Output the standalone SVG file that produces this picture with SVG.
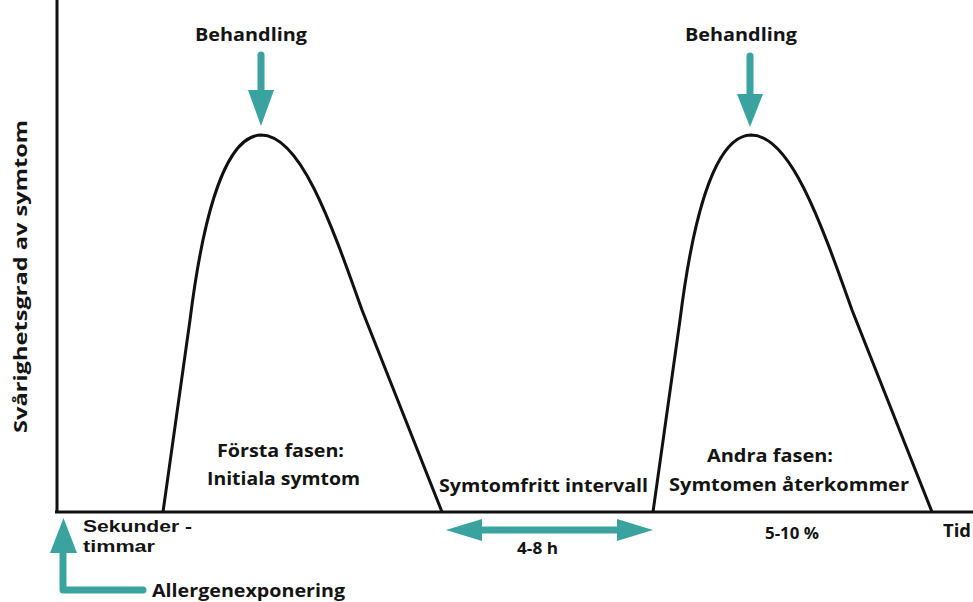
<svg xmlns="http://www.w3.org/2000/svg" width="973" height="602" viewBox="0 0 973 602">
<style>
.t{font-family:"Open Sans","Liberation Sans",sans-serif;font-weight:700;font-size:18px;fill:#141414}
.s{font-size:16px}
.n{font-family:"Liberation Sans",Arial,sans-serif;font-size:17px}
.ax{stroke:#111;stroke-width:3;fill:none}
.cv{stroke:#111;stroke-width:3;fill:none;stroke-linejoin:round}
.sh{stroke:#3aa39f;stroke-width:7;fill:none;stroke-linecap:round;stroke-linejoin:round}
.hd{fill:#3aa39f}
</style>
<defs>
<path id="hump" d="M163,512 L190,320 C200,240 220,136 261,135 C300,135 330,220 362,310 L442,512"/>
</defs>
<g id="axes">
<line class="ax" x1="57" y1="0" x2="57" y2="513"/>
<line class="ax" x1="55" y1="512" x2="973" y2="512"/>
<text class="t" transform="translate(27,276.5) rotate(-90)" text-anchor="middle" textLength="313" lengthAdjust="spacingAndGlyphs">Svårighetsgrad av symtom</text>
<text class="t" x="943" y="537" textLength="28" lengthAdjust="spacingAndGlyphs">Tid</text>
<text class="t n" x="83" y="532" textLength="109" lengthAdjust="spacingAndGlyphs">Sekunder -</text>
<text class="t n" x="83" y="552" textLength="72" lengthAdjust="spacingAndGlyphs">timmar</text>
</g>
<g id="phase1">
<use href="#hump" class="cv"/>
<text class="t" x="217" y="457" textLength="127" lengthAdjust="spacingAndGlyphs">Första fasen:</text>
<text class="t" x="207" y="485" textLength="153" lengthAdjust="spacingAndGlyphs">Initiala symtom</text>
</g>
<g id="phase2">
<use href="#hump" class="cv" transform="translate(490,0)"/>
<text class="t" x="707" y="462" textLength="126" lengthAdjust="spacingAndGlyphs">Andra fasen:</text>
<text class="t" x="669" y="491" textLength="240" lengthAdjust="spacingAndGlyphs">Symtomen återkommer</text>
<text class="t s" x="765" y="539" textLength="54" lengthAdjust="spacingAndGlyphs">5-10 %</text>
</g>
<g id="interval">
<text class="t" x="439" y="492" textLength="209" lengthAdjust="spacingAndGlyphs">Symtomfritt intervall</text>
<text class="t s" x="517" y="554" textLength="41" lengthAdjust="spacingAndGlyphs">4-8 h</text>
</g>
<g id="treatment1">
<text class="t" x="195" y="41" textLength="112" lengthAdjust="spacingAndGlyphs">Behandling</text>
</g>
<g id="treatment2">
<text class="t" x="685" y="41" textLength="112" lengthAdjust="spacingAndGlyphs">Behandling</text>
</g>
<g id="exposure">
<text class="t" x="152" y="597" textLength="193" lengthAdjust="spacingAndGlyphs">Allergenexponering</text>
</g>
<g id="connectors">
<line class="sh" x1="261" y1="55" x2="261" y2="92"/>
<polygon class="hd" points="248,90 274,90 261,126"/>
<line class="sh" x1="750" y1="56" x2="750" y2="96"/>
<polygon class="hd" points="737,94 763,94 750,127"/>
<line class="sh" x1="478" y1="530" x2="621" y2="530"/>
<polygon class="hd" points="446,530 482,519 482,541"/>
<polygon class="hd" points="653,530 617,519 617,541"/>
<path class="sh" d="M63,550 L63,590 L143,590"/>
<polygon class="hd" points="50,553 77,553 63.5,518"/>
</g>
</svg>
